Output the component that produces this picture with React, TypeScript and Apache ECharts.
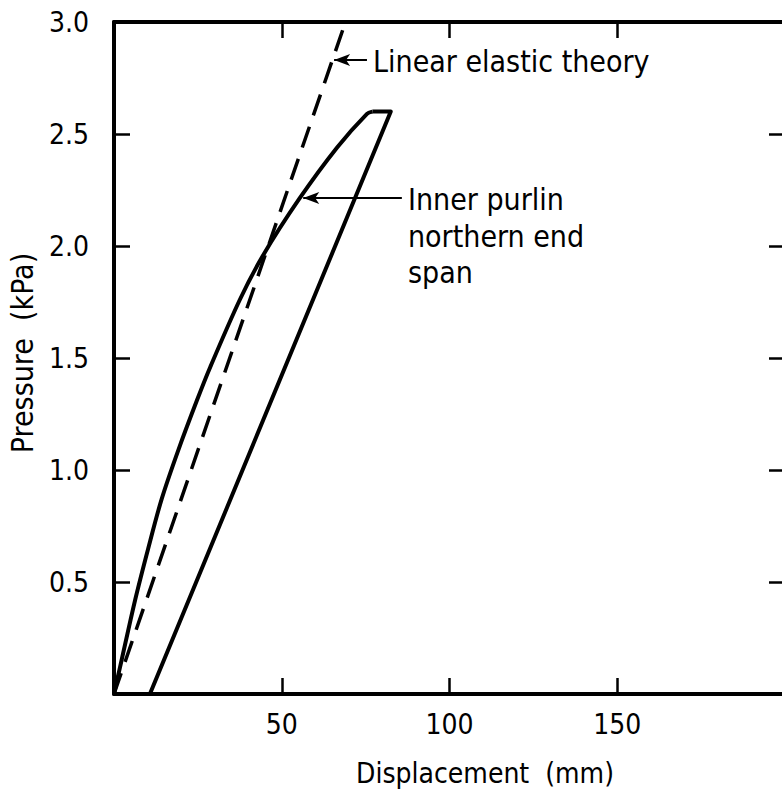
import React, { useEffect, useRef } from "react";
import * as echarts from "echarts";

// Displacement (mm) / Pressure (kPa)
const loadingDisp = [0, 1.8, 6.3, 10.2, 14.2, 19.2, 24.7, 28.7, 37.5, 44.5, 55.2, 66.5, 75.4, 77.0];
const loadingPress = [0, 0.12, 0.42, 0.65, 0.87, 1.09, 1.31, 1.46, 1.76, 1.96, 2.21, 2.44, 2.59, 2.6];
const unloadingDisp = [77.0, 82.5, 10.7];
const unloadingPress = [2.6, 2.6, 0];
const elasticDisp = [0, 69];
const elasticPress = [0, 3.0];

const xTicks = [0, 50, 100, 150, 200];
const yTicks = [0, 0.5, 1.0, 1.5, 2.0, 2.5, 3.0];

const elasticArrow = { tip: [65.6, 2.83], tail: [75.4, 2.83] };
const purlinArrow = { tip: [56.4, 2.214], tail: [85.8, 2.214] };

const FONT = "'DejaVu Sans Condensed', 'DejaVu Sans', sans-serif";

export default function App() {
  const ref = useRef<HTMLDivElement>(null);
  useEffect(() => {
    if (!ref.current) return;
    const chart = echarts.init(ref.current, undefined, { renderer: "svg" });
    const zip = (a: number[], b: number[]) => a.map((v, i) => [v, b[i]]);
    const axisLine = { show: true, onZero: false, lineStyle: { color: "#000", width: 4 } };
    const axisTick = { show: true, inside: true, length: 16, lineStyle: { color: "#000", width: 2.5 } };
    const labelStyle = { color: "#000", fontFamily: FONT, fontSize: 28 };
    const arrowML = (a: { tip: number[]; tail: number[] }) => ({
      silent: true,
      symbol: ["arrow", "none"],
      symbolSize: [9, 16],
      label: { show: false },
      lineStyle: { color: "#000", width: 2, type: "solid" },
      data: [[{ coord: a.tip }, { coord: a.tail }]],
    });
    const xBase = {
      type: "value", min: xTicks[0], max: xTicks[xTicks.length - 1], interval: 50,
      axisLine, axisTick, splitLine: { show: false },
    };
    const yBase = {
      type: "value", min: yTicks[0], max: yTicks[yTicks.length - 1], interval: 0.5,
      axisLine, axisTick, splitLine: { show: false },
    };
    chart.setOption({
      animation: false,
      backgroundColor: "#fff",
      grid: { left: 114, top: 22, right: 5, bottom: 97, containLabel: false },
      xAxis: [
        {
          ...xBase, position: "bottom",
          axisLabel: {
            ...labelStyle, margin: 16,
            formatter: (v: number) => (v === 0 || v === 200 ? "" : String(v)),
          },
        },
        { ...xBase, position: "top", axisLabel: { show: false } },
      ],
      yAxis: [
        {
          ...yBase, position: "left",
          axisLabel: {
            ...labelStyle, margin: 25,
            formatter: (v: number) => (v === 0 ? "" : v.toFixed(1)),
          },
        },
        { ...yBase, position: "right", axisLabel: { show: false } },
      ],
      series: [
        {
          type: "line", data: zip(elasticDisp, elasticPress), showSymbol: false, symbol: "none",
          lineStyle: { color: "#000", width: 3.5, type: [22, 12] },
          markLine: arrowML(elasticArrow),
        },
        {
          type: "line", data: zip(loadingDisp, loadingPress), showSymbol: false, symbol: "none", smooth: 0.3,
          lineStyle: { color: "#000", width: 4 },
          markLine: arrowML(purlinArrow),
        },
        {
          type: "line", data: zip(unloadingDisp, unloadingPress), showSymbol: false, symbol: "none",
          lineStyle: { color: "#000", width: 4, join: "round" },
        },
      ],
      graphic: [
        { type: "text", x: 373, y: 61, style: { text: "Linear elastic theory", fill: "#000", font: `30px ${FONT}`, verticalAlign: "middle" } },
        { type: "text", x: 408, y: 199, style: { text: "Inner purlin", fill: "#000", font: `30px ${FONT}`, verticalAlign: "middle" } },
        { type: "text", x: 408, y: 236, style: { text: "northern end", fill: "#000", font: `30px ${FONT}`, verticalAlign: "middle" } },
        { type: "text", x: 408, y: 272, style: { text: "span", fill: "#000", font: `30px ${FONT}`, verticalAlign: "middle" } },
        { type: "text", x: 485, y: 773, style: { text: "Displacement  (mm)", fill: "#000", font: `28px ${FONT}`, align: "center", verticalAlign: "middle" } },
        { type: "text", x: 22, y: 353, rotation: Math.PI / 2, style: { text: "Pressure  (kPa)", fill: "#000", font: `30px ${FONT}`, align: "center", verticalAlign: "middle" } },
      ],
    });
    return () => chart.dispose();
  }, []);
  return (
    <div
      ref={ref}
      style={{ position: "fixed", left: 0, top: 0, width: 790, height: 791, background: "#fff" }}
    />
  );
}
